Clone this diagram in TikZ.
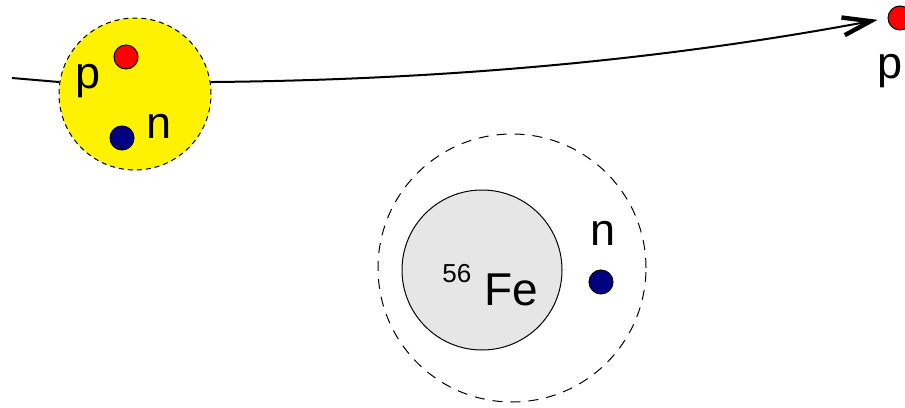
\documentclass[tikz,border=0pt]{standalone}
\usepackage{fontspec}
\setmainfont{Liberation Sans}
\usepackage{tikz}
\usetikzlibrary{arrows.meta, positioning}
\definecolor{protonred}{HTML}{FF0000}
\definecolor{neutronblue}{HTML}{000080}
\definecolor{nucleusgray}{HTML}{E6E6E6}
\tikzset{
  nucleon/.style={circle, draw, line width=0.5pt, inner sep=0pt, minimum size=12pt},
  lbl/.style={inner sep=0pt, anchor=base, font=\fontsize{22.5}{24}\selectfont}
}
\begin{document}
\begin{tikzpicture}[x=0.5pt, y=-0.5pt, >={Straight Barb[length=14pt, width=9pt, line width=2.2pt]}]
    \useasboundingbox (0,0) rectangle (905,407);

    \node[circle, draw, dash pattern=on 2.5pt off 2pt, line width=0.5pt, fill=yellow, minimum size=76pt, inner sep=0pt] (deut) at (135,94) {};
    \node[nucleon, fill=protonred] (pin) at (126,57) {};
    \node[nucleon, fill=neutronblue] (nin) at (122,138) {};
    \node[lbl] (plab) at (88,88) {p};
    \node[lbl] (nlab) at (159,138) {n};

    \coordinate (start) at (12,78);
    \node[nucleon, fill=protonred] (pout) at (900,18) {};
    \node[lbl] (poutlab) at (890,78) {p};

    \node[circle, draw, dash pattern=on 5pt off 4pt, line width=0.5pt, minimum size=134pt, inner sep=0pt] (shell) at (512,268) {};
    \node[circle, draw, line width=0.5pt, fill=nucleusgray, minimum size=80pt, inner sep=0pt] (fe) at (482,270) {};
    \node[inner sep=0pt, anchor=base west] (felab) at (442,305) {\raisebox{11.5pt}{\fontsize{13}{14}\selectfont 56}\hspace{6.5pt}\fontsize{23}{25}\selectfont Fe};
    \node[nucleon, fill=neutronblue] (nout) at (601,282) {};
    \node[lbl] (noutlab) at (603,245) {n};

    \draw[line width=1pt] (start) -- (deut.171);
    \draw[->, line width=1pt, shorten >=5pt] (deut.9) .. controls (432,80) and (653,62) .. (pout.west);
\end{tikzpicture}
\end{document}
